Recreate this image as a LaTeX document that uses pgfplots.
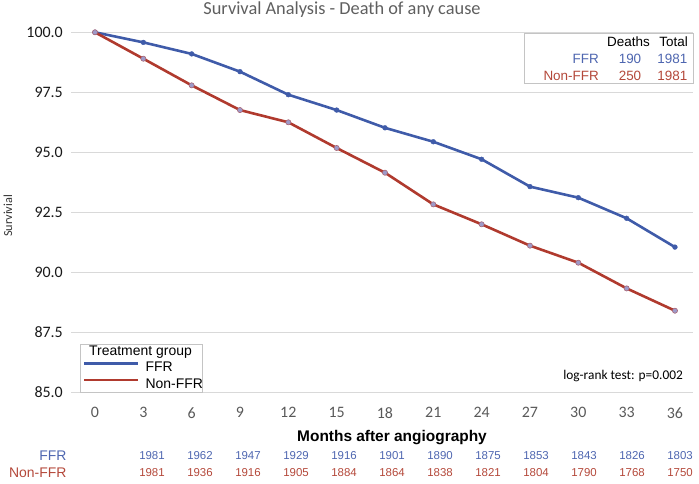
\documentclass[border=0pt]{standalone}
\usepackage{pgfplots}
\pgfplotsset{compat=1.18}
\usepackage{fontspec}
\setmainfont{Carlito}
\newfontfamily\arial{Liberation Sans}
\definecolor{ffrblue}{HTML}{3F5BA9}
\definecolor{nonred}{HTML}{B03A2E}
\definecolor{ffrtxt}{HTML}{4E66B0}
\definecolor{nontxt}{HTML}{B4483A}
\definecolor{gridgray}{HTML}{D9D9D9}
\definecolor{boxgray}{HTML}{C4C4C4}
\definecolor{mkfill}{HTML}{9E9AC9}
\definecolor{titlegray}{HTML}{5F5F5F}
\definecolor{tickgray}{HTML}{595959}
\begin{document}
\begin{tikzpicture}[x=1bp,y=1bp]
\path[use as bounding box] (0bp,0bp) rectangle (699bp,-484bp);
\begin{axis}[
  at={(71bp,-392.3bp)}, anchor=south west,
  scale only axis, width=622bp, height=360bp,
  xmin=-1.49, xmax=37.12, ymin=85, ymax=100,
  clip=false,
  axis line style={draw=none},
  major tick style={draw=none},
  xtick={0,3,...,36},
  ytick={85,87.5,90,92.5,95,97.5,100},
  ymajorgrids, grid style={gridgray, line width=0.9bp},
  /pgf/number format/assume math mode=true,
  yticklabel={\pgfmathprintnumber[fixed,fixed zerofill,precision=1]{\tick}},
  yticklabel style={font=\fontsize{16}{16}\selectfont, text=black!90, anchor=east, inner sep=0pt, xshift=-8bp},
  xticklabel style={font=\fontsize{16}{16}\selectfont, text=tickgray, anchor=north, inner sep=0pt, yshift=-15bp},
  legend image code/.code={\draw[#1, line width=2.6bp] (0bp,4.8bp) -- (54bp,4.8bp);},
  legend style={at={(0.0193,0.0856)}, anchor=north west, draw=none, fill=none,
    inner sep=0pt, outer sep=0pt, row sep=3.5bp, column sep=6bp,
    font=\arial\fontsize{14}{14}\selectfont,
    nodes={inner sep=0pt, text height=10.2bp, text depth=3bp}},
  legend cell align=left,
]
% legend frame and results box (drawn above grid, below legend)
\filldraw[fill=white, draw=boxgray, line width=1bp] (axis cs:-0.93,87.01) rectangle (axis cs:6.70,85.0);
\filldraw[fill=white, draw=boxgray, line width=1bp] (axis cs:26.63,99.97) rectangle (axis cs:37.12,97.85);

\addplot[ffrblue, line width=2.6bp, mark=*, mark size=2.4bp,
  mark options={fill=ffrblue, draw=ffrblue, line width=0.4bp}]
coordinates {(0,100) (3,99.58) (6,99.10) (9,98.36) (12,97.40) (15,96.76) (18,96.02) (21,95.44) (24,94.71) (27,93.57) (30,93.11) (33,92.25) (36,91.05)};
\addlegendentry{FFR}
\addplot[nonred, line width=2.6bp, mark=*, mark size=2.6bp,
  mark options={fill=mkfill, draw=nonred!55!mkfill, line width=0.6bp}]
coordinates {(0,100) (3,98.90) (6,97.79) (9,96.76) (12,96.25) (15,95.18) (18,94.15) (21,92.83) (24,92.00) (27,91.11) (30,90.40) (33,89.33) (36,88.40)};
\addlegendentry{Non-FFR}
\end{axis}

% title and axis labels
\node[anchor=base, font=\fontsize{18.4}{18.4}\selectfont, text=titlegray] at (342bp,-14bp) {Survival Analysis - Death of any cause};
\node[rotate=90, font=\fontsize{12.3}{12.3}\selectfont, text=black!80] at (8bp,-216bp) {Survivial};
\node[anchor=base, font=\arial\bfseries\fontsize{15.5}{15.5}\selectfont] at (392bp,-441.7bp) {Months after angiography};

% legend title
\node[anchor=base, font=\arial\fontsize{14}{14}\selectfont] at (140.5bp,-355.5bp) {Treatment group};

% results box text
\begin{scope}[every node/.style={font=\arial\fontsize{13.5}{13.5}\selectfont, inner sep=0pt}]
\node[anchor=base east] at (650bp,-46.5bp) {Deaths};
\node[anchor=base east] at (688bp,-46.5bp) {Total};
\node[anchor=base east, text=ffrtxt] at (599bp,-63.1bp) {FFR};
\node[anchor=base, text=ffrtxt] at (630bp,-63.1bp) {190};
\node[anchor=base east, text=ffrtxt] at (687.5bp,-63.1bp) {1981};
\node[anchor=base east, text=nontxt] at (599bp,-80.8bp) {Non-FFR};
\node[anchor=base, text=nontxt] at (630bp,-80.8bp) {250};
\node[anchor=base east, text=nontxt] at (687.5bp,-80.8bp) {1981};
\end{scope}

% log-rank
\node[anchor=base east, inner sep=0pt, font=\fontsize{13.4}{13.4}\selectfont] at (683bp,-379.5bp) {log-rank test: p=0.002};

% numbers at risk
\begin{scope}[every node/.style={inner sep=0pt}]
\node[anchor=base east, text=ffrtxt, font=\arial\fontsize{14}{14}\selectfont] at (66.7bp,-460.7bp) {FFR};
\node[anchor=base east, text=nontxt, font=\arial\fontsize{14}{14}\selectfont] at (66.7bp,-477.7bp) {Non-FFR};
\end{scope}
\begin{scope}[every node/.style={inner sep=0pt, anchor=base, font=\arial\fontsize{11.5}{11.5}\selectfont, text=ffrtxt}]
\node at (152bp,-459.8bp) {1981};
\node at (200bp,-459.8bp) {1962};
\node at (248bp,-459.8bp) {1947};
\node at (296bp,-459.8bp) {1929};
\node at (344bp,-459.8bp) {1916};
\node at (392bp,-459.8bp) {1901};
\node at (440bp,-459.8bp) {1890};
\node at (488bp,-459.8bp) {1875};
\node at (536bp,-459.8bp) {1853};
\node at (584bp,-459.8bp) {1843};
\node at (632bp,-459.8bp) {1826};
\node at (680bp,-459.8bp) {1803};
\end{scope}
\begin{scope}[every node/.style={inner sep=0pt, anchor=base, font=\arial\fontsize{11.5}{11.5}\selectfont, text=nontxt}]
\node at (152bp,-476.8bp) {1981};
\node at (200bp,-476.8bp) {1936};
\node at (248bp,-476.8bp) {1916};
\node at (296bp,-476.8bp) {1905};
\node at (344bp,-476.8bp) {1884};
\node at (392bp,-476.8bp) {1864};
\node at (440bp,-476.8bp) {1838};
\node at (488bp,-476.8bp) {1821};
\node at (536bp,-476.8bp) {1804};
\node at (584bp,-476.8bp) {1790};
\node at (632bp,-476.8bp) {1768};
\node at (680bp,-476.8bp) {1750};
\end{scope}
\end{tikzpicture}
\end{document}
